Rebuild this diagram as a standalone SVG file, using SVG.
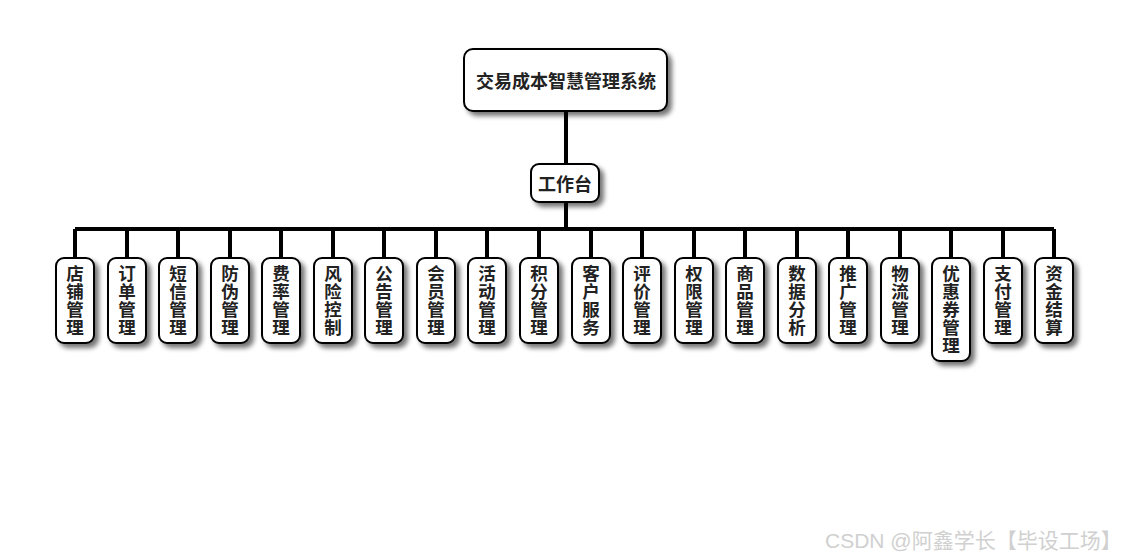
<svg xmlns="http://www.w3.org/2000/svg" width="1130" height="560" viewBox="0 0 1130 560">
<defs>
<filter id="sh" x="-30%" y="-30%" width="170%" height="170%">
<feGaussianBlur in="SourceAlpha" stdDeviation="2.5"/>
<feOffset dx="4" dy="4" result="b"/>
<feComponentTransfer><feFuncA type="linear" slope="0.55"/></feComponentTransfer>
<feMerge><feMergeNode/><feMergeNode in="SourceGraphic"/></feMerge>
</filter>
<style>
.box{fill:#fff;stroke:#000;stroke-width:2;filter:url(#sh)}
.t{font-family:"Liberation Sans","Noto Sans CJK SC",sans-serif;font-weight:bold;fill:#222;text-anchor:middle}
.v{font-size:17.5px}
.ln{stroke:#000;stroke-width:4;fill:none}
.wm{font-family:"Liberation Sans","Noto Sans CJK SC",sans-serif;font-size:21px;fill:#d0d0d0}
</style>
</defs>
<rect width="1130" height="560" fill="#fff"/>
<g id="connectors">
<path class="ln" d="M566 111V164M566 202V229M75 229H1054"/>
<path class="ln" d="M75 229V258M127 229V258M178 229V258M230 229V258M281 229V258M333 229V258M384 229V258M436 229V258M487 229V258M539 229V258M591 229V258M642 229V258M694 229V258M745 229V258M797 229V258M848 229V258M900 229V258M951 229V258M1003 229V258M1054 229V258"/>
</g>
<g id="root"><rect class="box" x="464" y="49" width="203" height="62" rx="9"/><text class="t" x="566" y="88" font-size="18">交易成本智慧管理系统</text></g>
<g id="gzt"><rect class="box" x="531" y="164" width="68" height="38" rx="8"/><text class="t" x="565" y="191" font-size="18">工作台</text></g>
<g id="n1"><rect class="box" x="56" y="258" width="38" height="85" rx="8"/><text class="t v"><tspan x="75" y="280">店</tspan><tspan x="75" y="298">铺</tspan><tspan x="75" y="316">管</tspan><tspan x="75" y="334">理</tspan></text></g>
<g id="n2"><rect class="box" x="108" y="258" width="38" height="85" rx="8"/><text class="t v"><tspan x="127" y="280">订</tspan><tspan x="127" y="298">单</tspan><tspan x="127" y="316">管</tspan><tspan x="127" y="334">理</tspan></text></g>
<g id="n3"><rect class="box" x="159" y="258" width="38" height="85" rx="8"/><text class="t v"><tspan x="178" y="280">短</tspan><tspan x="178" y="298">信</tspan><tspan x="178" y="316">管</tspan><tspan x="178" y="334">理</tspan></text></g>
<g id="n4"><rect class="box" x="211" y="258" width="38" height="85" rx="8"/><text class="t v"><tspan x="230" y="280">防</tspan><tspan x="230" y="298">伪</tspan><tspan x="230" y="316">管</tspan><tspan x="230" y="334">理</tspan></text></g>
<g id="n5"><rect class="box" x="262" y="258" width="38" height="85" rx="8"/><text class="t v"><tspan x="281" y="280">费</tspan><tspan x="281" y="298">率</tspan><tspan x="281" y="316">管</tspan><tspan x="281" y="334">理</tspan></text></g>
<g id="n6"><rect class="box" x="314" y="258" width="38" height="85" rx="8"/><text class="t v"><tspan x="333" y="280">风</tspan><tspan x="333" y="298">险</tspan><tspan x="333" y="316">控</tspan><tspan x="333" y="334">制</tspan></text></g>
<g id="n7"><rect class="box" x="365" y="258" width="38" height="85" rx="8"/><text class="t v"><tspan x="384" y="280">公</tspan><tspan x="384" y="298">告</tspan><tspan x="384" y="316">管</tspan><tspan x="384" y="334">理</tspan></text></g>
<g id="n8"><rect class="box" x="417" y="258" width="38" height="85" rx="8"/><text class="t v"><tspan x="436" y="280">会</tspan><tspan x="436" y="298">员</tspan><tspan x="436" y="316">管</tspan><tspan x="436" y="334">理</tspan></text></g>
<g id="n9"><rect class="box" x="468" y="258" width="38" height="85" rx="8"/><text class="t v"><tspan x="487" y="280">活</tspan><tspan x="487" y="298">动</tspan><tspan x="487" y="316">管</tspan><tspan x="487" y="334">理</tspan></text></g>
<g id="n10"><rect class="box" x="520" y="258" width="38" height="85" rx="8"/><text class="t v"><tspan x="539" y="280">积</tspan><tspan x="539" y="298">分</tspan><tspan x="539" y="316">管</tspan><tspan x="539" y="334">理</tspan></text></g>
<g id="n11"><rect class="box" x="572" y="258" width="38" height="85" rx="8"/><text class="t v"><tspan x="591" y="280">客</tspan><tspan x="591" y="298">户</tspan><tspan x="591" y="316">服</tspan><tspan x="591" y="334">务</tspan></text></g>
<g id="n12"><rect class="box" x="623" y="258" width="38" height="85" rx="8"/><text class="t v"><tspan x="642" y="280">评</tspan><tspan x="642" y="298">价</tspan><tspan x="642" y="316">管</tspan><tspan x="642" y="334">理</tspan></text></g>
<g id="n13"><rect class="box" x="675" y="258" width="38" height="85" rx="8"/><text class="t v"><tspan x="694" y="280">权</tspan><tspan x="694" y="298">限</tspan><tspan x="694" y="316">管</tspan><tspan x="694" y="334">理</tspan></text></g>
<g id="n14"><rect class="box" x="726" y="258" width="38" height="85" rx="8"/><text class="t v"><tspan x="745" y="280">商</tspan><tspan x="745" y="298">品</tspan><tspan x="745" y="316">管</tspan><tspan x="745" y="334">理</tspan></text></g>
<g id="n15"><rect class="box" x="778" y="258" width="38" height="85" rx="8"/><text class="t v"><tspan x="797" y="280">数</tspan><tspan x="797" y="298">据</tspan><tspan x="797" y="316">分</tspan><tspan x="797" y="334">析</tspan></text></g>
<g id="n16"><rect class="box" x="829" y="258" width="38" height="85" rx="8"/><text class="t v"><tspan x="848" y="280">推</tspan><tspan x="848" y="298">广</tspan><tspan x="848" y="316">管</tspan><tspan x="848" y="334">理</tspan></text></g>
<g id="n17"><rect class="box" x="881" y="258" width="38" height="85" rx="8"/><text class="t v"><tspan x="900" y="280">物</tspan><tspan x="900" y="298">流</tspan><tspan x="900" y="316">管</tspan><tspan x="900" y="334">理</tspan></text></g>
<g id="n18"><rect class="box" x="932" y="258" width="38" height="103" rx="8"/><text class="t v"><tspan x="951" y="280">优</tspan><tspan x="951" y="298">惠</tspan><tspan x="951" y="316">券</tspan><tspan x="951" y="334">管</tspan><tspan x="951" y="352">理</tspan></text></g>
<g id="n19"><rect class="box" x="984" y="258" width="38" height="85" rx="8"/><text class="t v"><tspan x="1003" y="280">支</tspan><tspan x="1003" y="298">付</tspan><tspan x="1003" y="316">管</tspan><tspan x="1003" y="334">理</tspan></text></g>
<g id="n20"><rect class="box" x="1035" y="258" width="38" height="85" rx="8"/><text class="t v"><tspan x="1054" y="280">资</tspan><tspan x="1054" y="298">金</tspan><tspan x="1054" y="316">结</tspan><tspan x="1054" y="334">算</tspan></text></g>
<text class="wm" x="825" y="548">CSDN @阿鑫学长【毕设工场】</text>
</svg>
